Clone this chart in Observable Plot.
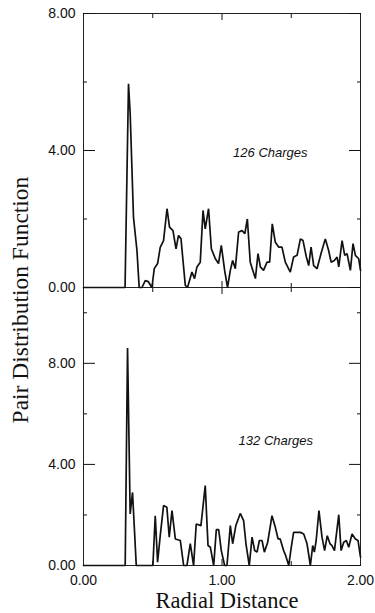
<!DOCTYPE html>
<html>
<head>
<meta charset="utf-8">
<script src="https://cdn.jsdelivr.net/npm/d3@7"></script>
<script src="https://cdn.jsdelivr.net/npm/@observablehq/plot@0.6"></script>
<style>
  html, body { margin: 0; padding: 0; background: #fff; }
  #wrap { position: relative; width: 375px; height: 613px; overflow: hidden; background: #fff; }
  #top, #bot { position: absolute; left: 0; }
  #top { top: 0; z-index: 2; }
  #bot { top: 287px; z-index: 1; }
  #ytitle { position: absolute; left: 20px; top: 300px; transform: translate(-50%, -50%) rotate(-90deg);
    font-family: "Liberation Serif", "Times New Roman", serif; font-size: 23.5px; line-height: 24px; white-space: nowrap; color: #111; }
  #xtitle { position: absolute; left: 83px; width: 288px; top: 590px; text-align: center;
    font-family: "Liberation Serif", "Times New Roman", serif; font-size: 22.5px; line-height: 22px; white-space: nowrap; color: #111; }
</style>
</head>
<body>
<div id="wrap">
  <div id="top"></div>
  <div id="bot"></div>
  <div id="ytitle">Pair Distribution Function</div>
  <div id="xtitle">Radial Distance</div>
</div>
<script>
// ---- data ----
const r126 = [0, 0.30, 0.325, 0.337, 0.361, 0.386, 0.402, 0.422, 0.446, 0.468, 0.494, 0.511, 0.535, 0.554, 0.578, 0.603, 0.621, 0.646, 0.668, 0.686, 0.704, 0.735, 0.751, 0.783, 0.802, 0.819, 0.843, 0.863, 0.879, 0.903, 0.923, 0.952, 0.975, 0.995, 1.019, 1.04, 1.06, 1.077, 1.096, 1.12, 1.145, 1.165, 1.183, 1.204, 1.241, 1.26, 1.277, 1.30, 1.325, 1.344, 1.363, 1.385, 1.409, 1.433, 1.457, 1.493, 1.517, 1.542, 1.566, 1.585, 1.609, 1.626, 1.643, 1.662, 1.686, 1.715, 1.746, 1.770, 1.788, 1.811, 1.831, 1.843, 1.867, 1.886, 1.903, 1.927, 1.946, 1.963, 1.987, 2.0];
const g126 = [0, 0, 5.95, 5.08, 2.05, 1.08, 0, 0, 0.2, 0.17, 0, 0.55, 0.7, 1.17, 1.37, 2.3, 1.76, 1.66, 1.13, 1.52, 1.42, 0.06, 0, 0.45, 0.26, 0.6, 0.74, 2.25, 1.71, 2.3, 1.13, 0.84, 0.7, 1.23, 0.5, 0, 0.5, 0.79, 0.55, 1.62, 1.66, 1.57, 2.0, 0.74, 0.26, 0.99, 0.6, 0.5, 0.74, 0.74, 1.86, 1.32, 1.18, 1.18, 0.74, 0.45, 0.89, 0.94, 1.42, 1.37, 0.89, 0.64, 1.18, 0.64, 0.55, 0.99, 1.42, 1.08, 0.74, 0.79, 0.89, 0.6, 1.37, 0.94, 0.99, 0.5, 1.28, 0.94, 0.84, 0.5];

const r132 = [0, 0.301, 0.318, 0.337, 0.354, 0.381, 0.501, 0.518, 0.535, 0.554, 0.578, 0.602, 0.619, 0.639, 0.663, 0.699, 0.723, 0.747, 0.771, 0.795, 0.814, 0.848, 0.879, 0.899, 0.916, 0.94, 0.959, 0.976, 0.995, 1.019, 1.036, 1.06, 1.077, 1.10, 1.132, 1.156, 1.173, 1.197, 1.217, 1.236, 1.253, 1.27, 1.289, 1.306, 1.33, 1.361, 1.385, 1.405, 1.42, 1.445, 1.46, 1.482, 1.50, 1.517, 1.537, 1.566, 1.59, 1.614, 1.638, 1.655, 1.667, 1.68, 1.70, 1.722, 1.741, 1.76, 1.78, 1.794, 1.812, 1.843, 1.86, 1.879, 1.898, 1.915, 1.939, 1.963, 1.982, 2.0];
const g132 = [0, 0, 8.61, 2.04, 2.89, 0, 0, 1.97, 0.13, 1.18, 2.37, 2.3, 1.12, 2.17, 1.05, 0.99, 0, 0, 0.87, 0, 1.64, 1.58, 3.16, 0.79, 0.72, 0, 1.42, 1.42, 0.59, 0, 0, 1.58, 0.86, 1.58, 2.06, 1.78, 0.86, 0, 1.12, 0.59, 0.53, 0.99, 0.99, 0.53, 0.92, 1.97, 1.51, 1.05, 1.05, 0.59, 0.39, 0, 0.72, 1.31, 1.31, 1.31, 1.25, 0.86, 0, 0.79, 0.53, 0.99, 2.17, 1.12, 0.59, 1.18, 0.86, 0.79, 0.59, 2.01, 0.59, 0.92, 0.99, 0.72, 1.25, 1.05, 0.99, 0.33];

const panelLabels = ["126 Charges", "132 Charges"];
const labelX = [1.08, 1.12];
const labelY = [3.93, 4.95];

const yDomains = [[0, 8], [0, 11]];
const yMajorTicks = [0, 4, 8];
const yMinorTicks = [[2, 6], [2, 6, 10]];
const xTickLabels = [0, 1, 2];
const xMajorInner = [1];
const xMinorInner = [0.5, 1.5];

const fmt = d3.format(".2f");
const toRows = (r, g) => r.map((x, i) => ({r: x, g: g[i]}));

function panel(i, rows, opts) {
  const marks = [
    Plot.frame({stroke: "#222", strokeWidth: 1}),
    Plot.axisY({anchor: "left", ticks: yMajorTicks, tickSize: -12, fill: "none", label: null}),
    Plot.axisY({anchor: "right", ticks: yMajorTicks, tickSize: -12, fill: "none", label: null}),
    Plot.axisY({anchor: "left", ticks: yMinorTicks[i], tickSize: -4, fill: "none", label: null}),
    Plot.axisY({anchor: "right", ticks: yMinorTicks[i], tickSize: -4, fill: "none", label: null}),
    Plot.axisY({anchor: "left", ticks: yMajorTicks, tickSize: 0, tickPadding: 8, tickFormat: fmt, label: null}),
    Plot.axisX({anchor: "top", ticks: xMajorInner, tickSize: -6, fill: "none", label: null}),
    Plot.axisX({anchor: "top", ticks: xMinorInner, tickSize: -4, fill: "none", label: null}),
    Plot.axisX({anchor: "bottom", ticks: xMajorInner, tickSize: -6, fill: "none", label: null}),
    Plot.axisX({anchor: "bottom", ticks: xMinorInner, tickSize: -4, fill: "none", label: null}),
    Plot.line(rows, {x: "r", y: "g", stroke: "#111", strokeWidth: 1.7, strokeLinejoin: "miter"}),
    Plot.text([panelLabels[i]], {x: labelX[i], y: labelY[i], text: d => d, textAnchor: "start",
      fontStyle: "italic", fontSize: 13, fill: "#111"})
  ];
  if (opts.xLabels) {
    marks.push(Plot.axisX({anchor: "bottom", ticks: xTickLabels, tickSize: 0, tickPadding: 10, tickFormat: fmt, label: null}));
  }
  return Plot.plot({
    width: 375,
    height: opts.height,
    marginLeft: 83,
    marginRight: 15,
    marginTop: opts.marginTop,
    marginBottom: opts.marginBottom,
    x: {domain: [0, 2]},
    y: {domain: yDomains[i]},
    style: {background: "transparent", overflow: "visible", color: "#111",
      fontFamily: "'Liberation Sans', Arial, Helvetica, sans-serif", fontSize: "14px"},
    marks
  });
}

document.getElementById("top").appendChild(
  panel(0, toRows(r126, g126), {height: 287, marginTop: 13, marginBottom: 0, xLabels: false}));
document.getElementById("bot").appendChild(
  panel(1, toRows(r132, g132), {height: 326, marginTop: 0, marginBottom: 48, xLabels: true}));
</script>
</body>
</html>
